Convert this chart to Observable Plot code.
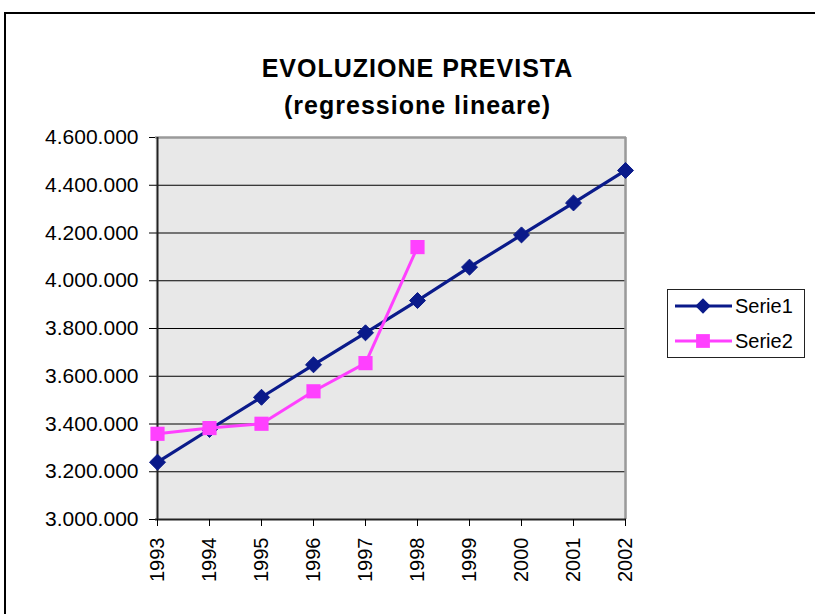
<!DOCTYPE html>
<html>
<head>
<meta charset="utf-8">
<script src="https://cdn.jsdelivr.net/npm/d3@7"></script>
<script src="https://cdn.jsdelivr.net/npm/@observablehq/plot@0.6"></script>
<style>
  html, body { margin: 0; padding: 0; width: 815px; height: 614px; overflow: hidden; background: white; }
  #wrap { position: relative; width: 815px; height: 614px; font-family: "Liberation Sans", Arial, sans-serif; }
  #border { position: absolute; left: 4px; top: 12px; width: 1000px; height: 1000px; border: 2px solid black; box-sizing: border-box; }
  #chart { position: absolute; left: 0; top: 0; }
  .title { position: absolute; left: 0; width: 835px; text-align: center; font-weight: bold; font-size: 25px; line-height: 25px; letter-spacing: 1px; color: black; white-space: nowrap; }
  #legend { position: absolute; left: 667px; top: 289px; width: 138px; height: 69px; border: 1px solid #222; box-sizing: border-box; background: white; }
</style>
</head>
<body>
<div id="wrap">
  <div id="border"></div>
  <div id="chart"></div>
  <div class="title" style="top:56px">EVOLUZIONE PREVISTA</div>
  <div class="title" style="top:93px">(regressione lineare)</div>
  <div id="legend"></div>
</div>
<script>
const years = ["1993","1994","1995","1996","1997","1998","1999","2000","2001","2002"];
const serie1 = [3240000, 3377000, 3512000, 3648000, 3782000, 3917000, 4057000, 4192000, 4326000, 4462000];
const serie2 = [3359000, 3383000, 3401000, 3537000, 3655000, 4141000];
const yTicks = [3000000, 3200000, 3400000, 3600000, 3800000, 4000000, 4200000, 4400000, 4600000];
const seriesNames = ["Serie1", "Serie2"];

const navy = "#0a1a8a";
const pink = "#ff40ff";

const d1 = serie1.map((v, i) => ({year: years[i], value: v}));
const d2 = serie2.map((v, i) => ({year: years[i], value: v}));

const itFormat = d3.formatLocale({decimal: ",", thousands: ".", grouping: [3], currency: ["", ""]}).format(",");

const chart = Plot.plot({
  width: 815,
  height: 614,
  marginLeft: 155,
  marginRight: 189,
  marginTop: 137,
  marginBottom: 95,
  style: {background: "transparent", fontSize: "20px", fontFamily: "'Liberation Sans', Arial, sans-serif", color: "black", overflow: "visible"},
  x: {type: "point", domain: years, padding: 0},
  y: {domain: [3000000, 4600000]},
  marks: [
    Plot.frame({fill: "#e8e8e8"}),
    Plot.ruleY(yTicks.slice(1, -1), {stroke: "black", strokeWidth: 1}),
    Plot.ruleY([yTicks[yTicks.length - 1]], {stroke: "#9a9a9a", strokeWidth: 2.5}),
    Plot.ruleX([years[years.length - 1]], {stroke: "#9a9a9a", strokeWidth: 2.5}),
    Plot.ruleX([years[0]], {stroke: "#222", strokeWidth: 2}),
    Plot.ruleY([yTicks[0]], {stroke: "#222", strokeWidth: 2}),
    Plot.axisY(yTicks, {tickSize: 6, tickPadding: 11, tickFormat: itFormat, fontSize: 21, label: null}),
    Plot.axisX({tickSize: 7, tickPadding: 11, tickRotate: -90, fontSize: 20, label: null}),
    Plot.line(d1, {x: "year", y: "value", stroke: navy, strokeWidth: 3.2}),
    Plot.dot(d1, {x: "year", y: "value", symbol: "diamond2", r: 7.2, fill: navy, stroke: navy, strokeWidth: 1}),
    Plot.line(d2, {x: "year", y: "value", stroke: pink, strokeWidth: 3}),
    Plot.dot(d2, {x: "year", y: "value", symbol: "square", r: 8, fill: pink})
  ]
});
document.getElementById("chart").appendChild(chart);

// Legend
const lg = d3.select("#legend").append("svg").attr("width", 136).attr("height", 67).style("display", "block");
const rows = [
  {name: seriesNames[0], color: navy, symbol: d3.symbolDiamond2, size: 150},
  {name: seriesNames[1], color: pink, symbol: d3.symbolSquare, size: 190}
];
rows.forEach((r, i) => {
  const cy = 16 + i * 35;
  lg.append("line").attr("x1", 7).attr("x2", 64).attr("y1", cy).attr("y2", cy).attr("stroke", r.color).attr("stroke-width", 3);
  lg.append("path").attr("d", d3.symbol(r.symbol, r.size)()).attr("transform", `translate(35,${cy})`).attr("fill", r.color);
  lg.append("text").attr("x", 67).attr("y", cy + 7).attr("font-size", 20).attr("font-family", "'Liberation Sans', Arial, sans-serif").attr("fill", "black").text(r.name);
});
</script>
</body>
</html>
